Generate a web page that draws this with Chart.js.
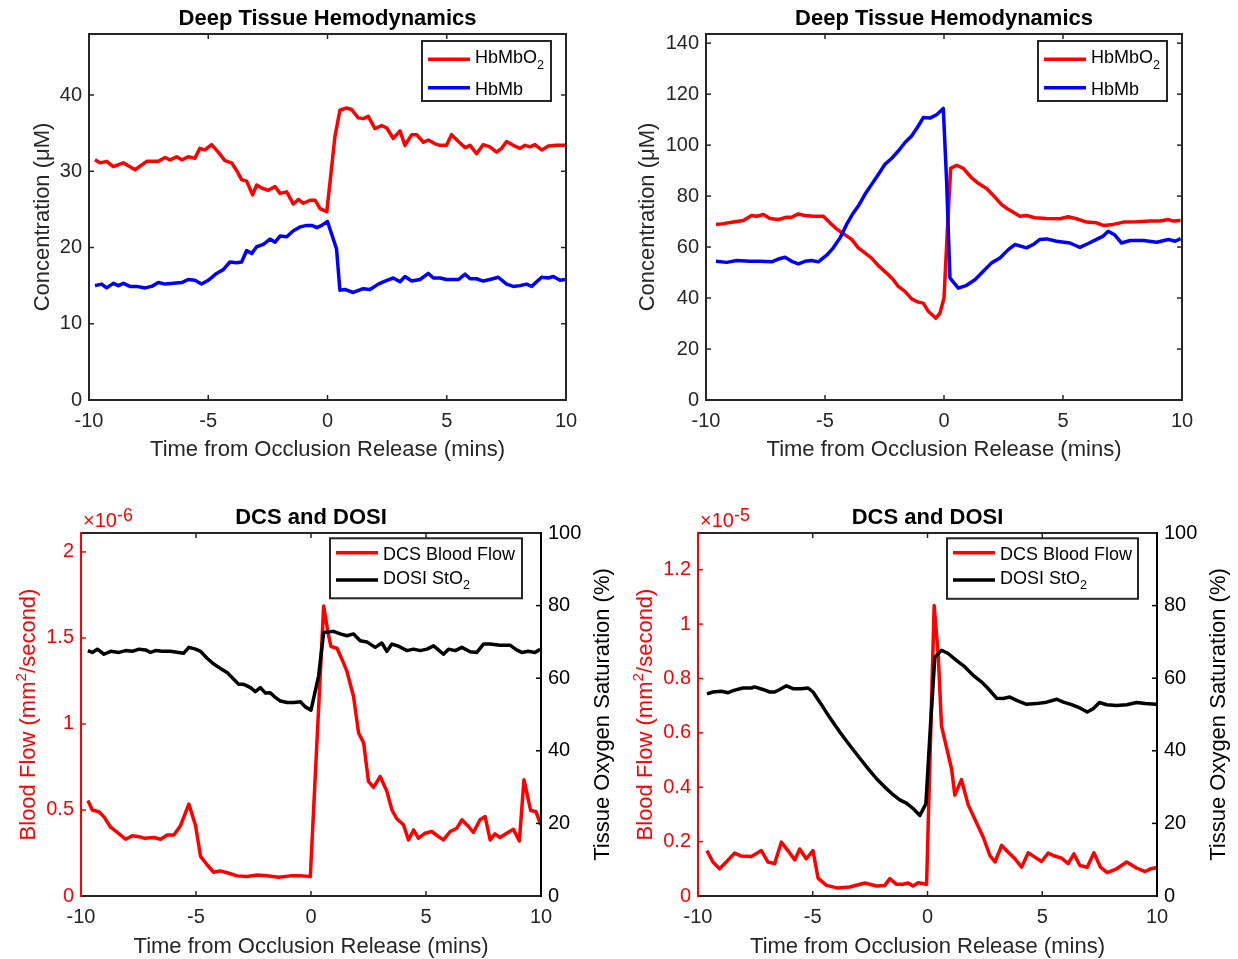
<!DOCTYPE html>
<html>
<head>
<meta charset="utf-8">
<script src="https://cdn.jsdelivr.net/npm/chart.js@4.4.1/dist/chart.umd.min.js"></script>
<style>
  html, body { margin: 0; padding: 0; background: #ffffff; }
  #page { position: relative; width: 1238px; height: 959px; overflow: hidden; background: #ffffff; }
  canvas { position: absolute; display: block; }
</style>
</head>
<body>
<div id="page">
  <canvas id="hemoA" width="619" height="480" style="left:0px;top:0px"></canvas>
  <canvas id="hemoB" width="619" height="480" style="left:619px;top:0px"></canvas>
  <canvas id="flowC" width="619" height="479" style="left:0px;top:480px"></canvas>
  <canvas id="flowD" width="619" height="479" style="left:619px;top:480px"></canvas>
</div>
<script>
// ---------- tick labels ----------
const timeTicks = [-10, -5, 0, 5, 10];
const concTicksA = [0, 10, 20, 30, 40];
const concTicksB = [0, 20, 40, 60, 80, 100, 120, 140];
const flowTicksC = [0, 0.5, 1, 1.5, 2];          // x 1e-6 mm^2/s
const flowTicksD = [0, 0.2, 0.4, 0.6, 0.8, 1, 1.2]; // x 1e-5 mm^2/s
const satTicks = [0, 20, 40, 60, 80, 100];

// ---------- panel A: deep tissue hemodynamics (uM) ----------
const timeOxyA = [-9.75,-9.54,-9.26,-8.98,-8.56,-8.07,-7.58,-7.09,-6.81,-6.60,-6.32,-6.11,-5.84,-5.56,-5.35,-5.14,-4.86,-4.58,-4.30,-4.02,-3.81,-3.60,-3.39,-3.14,-2.97,-2.76,-2.48,-2.20,-1.99,-1.71,-1.43,-1.22,-1.01,-0.73,-0.52,-0.31,-0.03,0.10,0.31,0.52,0.80,1.01,1.29,1.50,1.71,1.99,2.27,2.48,2.76,3.04,3.25,3.53,3.74,4.02,4.23,4.51,4.72,4.99,5.20,5.49,5.77,5.98,6.25,6.53,6.81,7.09,7.30,7.51,7.79,8.07,8.28,8.49,8.70,8.98,9.26,9.61,9.96];
const oxyA = [31.5,31.1,31.3,30.6,31.1,30.2,31.3,31.3,31.8,31.5,31.9,31.5,31.9,31.7,33.0,32.8,33.5,32.5,31.4,31.1,30.1,28.9,28.7,26.9,28.2,27.8,27.5,28.0,27.1,27.3,25.7,26.3,25.8,26.2,26.2,25.1,24.7,28.4,34.5,38.0,38.3,38.1,37.0,36.9,37.2,35.6,36.0,35.7,34.3,35.3,33.4,34.8,34.8,33.8,34.1,33.6,33.4,33.4,34.8,33.9,33.1,33.4,32.3,33.5,33.2,32.5,33.0,33.9,33.4,33.0,33.4,33.2,33.5,32.8,33.3,33.4,33.4];
const timeDeoxyA = [-9.75,-9.47,-9.26,-8.98,-8.77,-8.56,-8.28,-8.00,-7.65,-7.37,-7.09,-6.81,-6.46,-6.11,-5.84,-5.56,-5.28,-5.00,-4.65,-4.37,-4.09,-3.81,-3.60,-3.39,-3.18,-2.97,-2.69,-2.41,-2.20,-1.99,-1.71,-1.43,-1.15,-0.87,-0.66,-0.45,-0.24,0.00,0.38,0.52,0.73,1.08,1.50,1.78,2.13,2.41,2.76,3.04,3.25,3.53,3.88,4.23,4.44,4.72,4.99,5.49,5.77,5.98,6.25,6.53,6.81,7.16,7.51,7.79,8.07,8.35,8.56,8.98,9.26,9.47,9.75,9.96];
const deoxyA = [15.0,15.2,14.7,15.3,15.0,15.3,14.9,14.9,14.7,14.9,15.4,15.2,15.3,15.4,15.8,15.7,15.2,15.7,16.6,17.1,18.1,18.0,18.1,19.6,19.2,20.1,20.4,21.1,20.7,21.5,21.4,22.2,22.7,22.9,22.9,22.6,22.9,23.4,19.8,14.4,14.5,14.1,14.6,14.5,15.2,15.6,16.0,15.5,16.2,15.6,15.8,16.6,16.0,16.0,15.8,15.8,16.5,15.9,15.9,15.6,15.8,16.1,15.2,14.9,15.0,15.2,14.9,16.1,16.0,16.2,15.7,15.8];

// ---------- panel B: deep tissue hemodynamics (uM) ----------
const timeOxyB = [-9.58,-9.27,-8.85,-8.43,-8.08,-7.87,-7.59,-7.31,-6.96,-6.61,-6.40,-6.12,-5.84,-5.49,-5.07,-4.79,-4.51,-4.23,-3.88,-3.60,-3.32,-3.04,-2.76,-2.41,-2.13,-1.92,-1.64,-1.36,-1.08,-0.87,-0.66,-0.34,-0.17,0.00,0.14,0.28,0.53,0.81,1.16,1.44,1.79,2.14,2.42,2.70,3.19,3.47,3.82,4.31,4.87,5.22,5.57,5.99,6.41,6.69,7.11,7.54,8.10,8.66,9.08,9.43,9.64,9.94];
const oxyB = [68.9,69.2,69.8,70.4,72.4,72.1,72.8,71.2,70.8,71.7,71.7,73.0,72.4,72.1,72.1,69.5,67.1,65.3,63.0,59.7,57.7,55.7,52.7,49.8,47.2,44.6,42.6,39.7,38.4,38.0,34.8,32.1,34.1,40.0,66.2,90.9,92.1,90.9,87.2,85.0,83.0,79.6,76.7,74.8,72.1,72.4,71.5,71.2,71.1,71.9,71.1,69.8,69.5,68.5,68.9,69.8,69.9,70.2,70.2,70.8,70.2,70.4];
const timeDeoxyB = [-9.58,-9.13,-8.71,-8.15,-7.73,-7.24,-6.96,-6.68,-6.40,-6.12,-5.84,-5.56,-5.28,-4.93,-4.65,-4.37,-4.09,-3.81,-3.60,-3.32,-3.04,-2.76,-2.48,-2.20,-1.92,-1.64,-1.36,-1.08,-0.87,-0.59,-0.31,-0.03,0.11,0.25,0.60,0.95,1.30,1.65,2.00,2.35,2.70,2.98,3.47,3.75,4.03,4.31,4.73,5.29,5.71,6.06,6.41,6.69,6.90,7.18,7.46,7.82,8.38,8.94,9.43,9.71,9.94];
const deoxyB = [54.4,54.0,54.7,54.4,54.4,54.2,55.3,56.0,54.4,53.4,54.4,54.7,54.2,56.8,59.7,63.6,68.9,73.4,76.1,80.7,84.6,88.5,92.5,94.8,97.7,101.0,103.6,107.5,110.8,110.6,111.9,114.4,85.9,47.9,43.9,45.0,47.2,50.5,53.8,55.7,59.0,61.0,59.7,61.0,63.0,63.2,62.3,61.6,59.9,61.4,63.0,64.3,66.2,64.7,61.6,62.6,62.6,61.9,63.0,62.3,63.3];

// ---------- panel C: DCS blood flow (x1e-6) and DOSI StO2 (%) ----------
const timeFlowC = [-9.70,-9.51,-9.22,-9.00,-8.71,-8.42,-8.06,-7.77,-7.48,-7.26,-6.83,-6.54,-6.25,-5.96,-5.67,-5.31,-5.02,-4.80,-4.51,-4.23,-3.94,-3.57,-3.21,-2.78,-2.34,-1.91,-1.40,-0.90,-0.39,-0.03,0.55,0.77,0.87,1.13,1.35,1.56,1.85,2.07,2.29,2.50,2.72,3.01,3.30,3.52,3.73,4.02,4.24,4.46,4.67,4.96,5.25,5.54,5.76,6.05,6.34,6.56,6.85,7.06,7.35,7.57,7.79,8.00,8.22,8.51,8.80,9.06,9.26,9.55,9.78,9.99];
const flowC = [0.555,0.50,0.49,0.46,0.40,0.37,0.33,0.35,0.345,0.336,0.34,0.33,0.355,0.355,0.41,0.534,0.41,0.23,0.18,0.138,0.146,0.132,0.117,0.113,0.122,0.118,0.109,0.117,0.117,0.113,1.685,1.51,1.45,1.44,1.375,1.307,1.16,0.948,0.889,0.666,0.631,0.695,0.608,0.50,0.449,0.414,0.326,0.384,0.336,0.365,0.375,0.346,0.326,0.375,0.394,0.443,0.404,0.369,0.443,0.462,0.326,0.361,0.34,0.365,0.388,0.32,0.676,0.497,0.491,0.414];
const timeStoC = [-9.70,-9.51,-9.29,-9.00,-8.71,-8.35,-8.06,-7.77,-7.48,-7.19,-6.98,-6.76,-6.47,-6.11,-5.75,-5.53,-5.31,-5.02,-4.80,-4.52,-4.23,-3.94,-3.65,-3.36,-3.14,-2.92,-2.63,-2.42,-2.20,-1.98,-1.77,-1.55,-1.33,-1.04,-0.75,-0.46,-0.25,0.00,0.33,0.55,0.98,1.27,1.56,1.85,2.14,2.43,2.79,3.08,3.30,3.52,3.81,4.17,4.46,4.75,5.04,5.33,5.54,5.76,5.98,6.27,6.56,6.92,7.21,7.50,7.79,8.22,8.65,8.94,9.16,9.45,9.74,9.96];
const stoC = [67.6,67.1,68.0,66.6,67.4,67.1,67.6,67.4,68.0,67.8,67.1,67.6,67.4,67.4,67.1,66.9,68.5,68.0,67.4,65.5,63.9,62.7,61.6,59.7,58.3,58.3,57.4,56.3,57.4,55.9,56.0,54.7,53.7,53.3,53.3,53.5,52.1,51.2,60.6,72.6,72.9,72.2,71.7,72.2,70.3,70.0,68.5,69.7,67.4,69.4,68.8,67.6,68.0,67.6,68.0,68.9,67.8,66.6,68.0,67.6,68.5,67.3,67.1,69.4,69.4,69.1,69.1,67.8,67.1,67.4,67.1,68.0];

// ---------- panel D: DCS blood flow (x1e-5) and DOSI StO2 (%) ----------
const timeFlowD = [-9.61,-9.35,-9.06,-8.77,-8.40,-8.11,-7.67,-7.24,-6.95,-6.66,-6.37,-6.08,-5.78,-5.57,-5.28,-4.99,-4.77,-4.40,-3.90,-3.39,-2.73,-2.22,-1.86,-1.64,-1.35,-1.06,-0.84,-0.63,-0.41,-0.04,0.29,0.47,0.61,0.83,1.05,1.19,1.48,1.77,2.06,2.43,2.72,2.94,3.23,3.52,3.81,4.10,4.39,4.68,4.97,5.26,5.55,5.84,6.13,6.38,6.64,6.96,7.25,7.54,7.83,8.24,8.68,9.11,9.48,9.72,9.96];
const flowD = [0.167,0.125,0.100,0.125,0.158,0.147,0.145,0.167,0.125,0.119,0.198,0.167,0.133,0.173,0.137,0.167,0.066,0.039,0.029,0.033,0.048,0.037,0.039,0.064,0.043,0.043,0.048,0.037,0.049,0.043,1.068,0.882,0.626,0.546,0.467,0.371,0.428,0.336,0.283,0.216,0.149,0.125,0.186,0.161,0.137,0.106,0.159,0.143,0.127,0.158,0.147,0.139,0.119,0.155,0.112,0.106,0.159,0.106,0.086,0.100,0.125,0.103,0.090,0.100,0.104];
const timeStoD = [-9.61,-9.35,-8.98,-8.69,-8.40,-8.04,-7.67,-7.53,-7.17,-6.88,-6.66,-6.44,-6.15,-5.86,-5.50,-5.20,-4.99,-4.69,-4.40,-4.11,-3.82,-3.53,-3.24,-2.88,-2.59,-2.22,-1.86,-1.50,-1.21,-0.92,-0.63,-0.33,-0.07,0.13,0.32,0.61,0.90,1.26,1.63,1.99,2.35,2.65,3.01,3.30,3.59,3.88,4.32,4.75,5.19,5.63,5.92,6.28,6.64,6.96,7.22,7.49,7.81,8.24,8.68,9.11,9.48,9.96];
const stoD = [55.7,56.2,56.4,56.0,56.7,57.3,57.3,57.6,56.9,56.2,56.2,56.9,57.9,57.1,57.1,57.3,56.2,53.4,50.5,47.8,45.2,42.7,40.3,37.4,35.1,32.3,30.0,27.9,26.5,25.6,24.1,22.2,25.4,47.0,65.8,67.7,66.8,64.9,63.1,60.8,59.0,57.1,54.5,54.4,54.8,53.9,52.8,53.0,53.4,54.2,53.4,52.7,51.8,50.7,51.6,53.3,52.7,52.5,52.7,53.3,53.0,52.8];

// ---------- styling ----------
const FONT = '"Liberation Sans", Arial, Helvetica, sans-serif';
const INK = '#262626';
const RED = '#ff0000';
const BLUE = '#0000ff';
const BLACK = '#000000';
const TICK_LEN = 5;
const LINE_W = 3.5;
Chart.defaults.font.family = FONT;

// text made of runs, some raised (sup) or lowered (sub)
function drawRich(ctx, parts, x, y, size, color, align, weight) {
  const runs = parts.map(p => {
    const o = typeof p === 'string' ? { t: p } : p;
    const s = (o.sup || o.sub) ? size * (o.scale || 0.7) : size;
    const dy = o.sup ? -(o.raise || size * 0.4) : (o.sub ? size * 0.3 : 0);
    return { t: o.t, font: (weight ? weight + ' ' : '') + s + 'px ' + FONT, dy };
  });
  let total = 0;
  runs.forEach(r => { ctx.font = r.font; r.w = ctx.measureText(r.t).width; total += r.w; });
  let cx = align === 'center' ? x - total / 2 : (align === 'right' ? x - total : x);
  ctx.fillStyle = color;
  ctx.textAlign = 'left';
  ctx.textBaseline = 'alphabetic';
  runs.forEach(r => { ctx.font = r.font; ctx.fillText(r.t, cx, y + r.dy); cx += r.w; });
}

function strokeLine(ctx, x1, y1, x2, y2) {
  ctx.beginPath(); ctx.moveTo(x1, y1); ctx.lineTo(x2, y2); ctx.stroke();
}

// axes frame, inward ticks, titles and legend for one panel
function makeFramePlugin(spec) {
  return {
    id: 'frame',
    afterDatasetsDraw(chart) {
      const ctx = chart.ctx;
      const a = chart.chartArea;
      const xs = chart.scales.x;
      ctx.save();
      ctx.lineCap = 'butt';
      ctx.lineWidth = 1.5;
      ctx.strokeStyle = INK;
      xs.ticks.forEach(t => {
        const p = xs.getPixelForValue(t.value);
        strokeLine(ctx, p, a.bottom, p, a.bottom - TICK_LEN);
        strokeLine(ctx, p, a.top, p, a.top + TICK_LEN);
      });
      spec.axes.forEach(ax => {
        const s = chart.scales[ax.id];
        ctx.strokeStyle = ax.color;
        s.ticks.forEach(t => {
          const p = s.getPixelForValue(t.value);
          if (ax.left) strokeLine(ctx, a.left, p, a.left + TICK_LEN, p);
          if (ax.right) strokeLine(ctx, a.right, p, a.right - TICK_LEN, p);
        });
      });
      // frame edges
      ctx.lineWidth = 2;
      ctx.strokeStyle = INK;
      strokeLine(ctx, a.left - 1, a.top, a.right + 1, a.top);
      strokeLine(ctx, a.left - 1, a.bottom, a.right + 1, a.bottom);
      ctx.strokeStyle = spec.leftEdge;
      strokeLine(ctx, a.left, a.top - 1, a.left, a.bottom + 1);
      ctx.strokeStyle = spec.rightEdge;
      strokeLine(ctx, a.right, a.top - 1, a.right, a.bottom + 1);

      // title
      drawRich(ctx, [spec.title], (a.left + a.right) / 2, spec.titleY, 22, BLACK, 'center', 'bold');
      // x axis label
      drawRich(ctx, ['Time from Occlusion Release (mins)'], (a.left + a.right) / 2, spec.xLabelY, 22, INK, 'center');
      // y axis labels (rotated)
      spec.yLabels.forEach(yl => {
        ctx.save();
        ctx.translate(yl.x, (a.top + a.bottom) / 2);
        ctx.rotate(-Math.PI / 2);
        drawRich(ctx, yl.parts, 0, 0, 22, yl.color, 'center');
        ctx.restore();
      });
      // exponent above the left axis
      if (spec.exponent) {
        drawRich(ctx, ['\u00d710', { t: spec.exponent, sup: true, scale: 0.9, raise: 6 }], spec.expX, spec.expY, 20, RED, 'left');
      }
      // legend
      const lg = spec.legend;
      ctx.fillStyle = '#ffffff';
      ctx.fillRect(lg.x, lg.y, lg.w, lg.h);
      ctx.lineWidth = 2;
      ctx.strokeStyle = INK;
      ctx.strokeRect(lg.x, lg.y, lg.w, lg.h);
      lg.rows.forEach(r => {
        ctx.strokeStyle = r.color;
        ctx.lineWidth = LINE_W;
        strokeLine(ctx, lg.x + 6, lg.y + r.dy, lg.x + 48, lg.y + r.dy);
        const hasSub = r.parts.some(p => typeof p !== 'string');
        drawRich(ctx, r.parts, lg.x + 53, lg.y + r.dy + (hasSub ? 4 : 7), 18, BLACK, 'left');
      });
      ctx.restore();
    }
  };
}

function series(label, times, values, color, axisId, order) {
  return {
    label,
    data: times.map((t, i) => ({ x: t, y: values[i] })),
    borderColor: color,
    backgroundColor: color,
    borderWidth: LINE_W,
    borderJoinStyle: 'round',
    pointRadius: 0,
    tension: 0,
    fill: false,
    yAxisID: axisId,
    order
  };
}

function timeScale(spec) {
  return {
    type: 'linear', position: 'bottom', min: -10, max: 10,
    afterBuildTicks: s => { s.ticks = timeTicks.map(v => ({ value: v })); },
    afterFit: s => { s.height = spec.H - spec.box.bottom; },
    grid: { display: false, drawTicks: false },
    border: { display: false },
    ticks: { color: INK, font: { size: 20 }, padding: 9, maxRotation: 0, autoSkip: false, callback: v => String(v) }
  };
}

function valueScale(spec, pos, min, max, tickVals, color) {
  return {
    type: 'linear', position: pos, min, max,
    afterBuildTicks: s => { s.ticks = tickVals.map(v => ({ value: v })); },
    afterFit: s => { s.width = pos === 'left' ? spec.box.left : spec.W - spec.box.right; },
    grid: { display: false, drawTicks: false },
    border: { display: false },
    ticks: { color, font: { size: 20 }, padding: 7, autoSkip: false, callback: v => String(Math.round(v * 100) / 100) }
  };
}

function build(canvasId, spec, datasets, scales) {
  const hasRight = Object.values(scales).some(s => s.position === 'right');
  new Chart(document.getElementById(canvasId), {
    type: 'line',
    data: { datasets },
    options: {
      responsive: false,
      animation: false,
      events: [],
      layout: { padding: { top: spec.box.top, left: 0, bottom: 0, right: hasRight ? 0 : spec.W - spec.box.right } },
      plugins: { legend: { display: false }, title: { display: false }, tooltip: { enabled: false } },
      scales
    },
    plugins: [makeFramePlugin(spec)]
  });
}

const concLabel = ['Concentration (\u03bcM)'];
const flowLabel = ['Blood Flow (mm', { t: '2', sup: true }, '/second)'];
const satLabel = ['Tissue Oxygen Saturation (%)'];
const hbLegendRows = [
  { color: RED, dy: 18.3, parts: ['HbMbO', { t: '2', sub: true }] },
  { color: BLUE, dy: 46.7, parts: ['HbMb'] }
];
const dosiLegendRows = [
  { color: RED, dy: 14.4, parts: ['DCS Blood Flow'] },
  { color: BLACK, dy: 41.7, parts: ['DOSI StO', { t: '2', sub: true }] }
];

// panel A
const specA = {
  W: 619, H: 480, box: { left: 89, top: 34, right: 566, bottom: 400 },
  title: 'Deep Tissue Hemodynamics', titleY: 25, xLabelY: 456,
  yLabels: [{ x: 48.5, parts: concLabel, color: INK }],
  axes: [{ id: 'y', color: INK, left: true, right: true }],
  leftEdge: INK, rightEdge: INK,
  legend: { x: 422, y: 41, w: 129, h: 60, rows: hbLegendRows }
};
build('hemoA', specA, [
  series('HbMbO2', timeOxyA, oxyA, RED, 'y', 2),
  series('HbMb', timeDeoxyA, deoxyA, BLUE, 'y', 1)
], { x: timeScale(specA), y: valueScale(specA, 'left', 0, 48, concTicksA, INK) });

// panel B
const specB = {
  W: 619, H: 480, box: { left: 87, top: 34, right: 563, bottom: 400 },
  title: 'Deep Tissue Hemodynamics', titleY: 25, xLabelY: 456,
  yLabels: [{ x: 34.5, parts: concLabel, color: INK }],
  axes: [{ id: 'y', color: INK, left: true, right: true }],
  leftEdge: INK, rightEdge: INK,
  legend: { x: 419, y: 41, w: 129, h: 60, rows: hbLegendRows }
};
build('hemoB', specB, [
  series('HbMbO2', timeOxyB, oxyB, RED, 'y', 2),
  series('HbMb', timeDeoxyB, deoxyB, BLUE, 'y', 1)
], { x: timeScale(specB), y: valueScale(specB, 'left', 0, 143.6, concTicksB, INK) });

// panel C
const specC = {
  W: 619, H: 479, box: { left: 81, top: 53, right: 541, bottom: 416 },
  title: 'DCS and DOSI', titleY: 43.5, xLabelY: 473,
  yLabels: [{ x: 34.5, parts: flowLabel, color: RED }, { x: 609, parts: satLabel, color: BLACK }],
  axes: [{ id: 'yFlow', color: RED, left: true }, { id: 'ySat', color: BLACK, right: true }],
  leftEdge: RED, rightEdge: BLACK,
  exponent: '-6', expX: 83, expY: 46.7,
  legend: { x: 330, y: 58.3, w: 192, h: 60, rows: dosiLegendRows }
};
build('flowC', specC, [
  series('DCS Blood Flow', timeFlowC, flowC, RED, 'yFlow', 2),
  series('DOSI StO2', timeStoC, stoC, BLACK, 'ySat', 1)
], {
  x: timeScale(specC),
  yFlow: valueScale(specC, 'left', 0, 2.11, flowTicksC, RED),
  ySat: valueScale(specC, 'right', 0, 100, satTicks, BLACK)
});

// panel D
const specD = {
  W: 619, H: 479, box: { left: 79, top: 53, right: 538, bottom: 416 },
  title: 'DCS and DOSI', titleY: 43.5, xLabelY: 473,
  yLabels: [{ x: 32.5, parts: flowLabel, color: RED }, { x: 606, parts: satLabel, color: BLACK }],
  axes: [{ id: 'yFlow', color: RED, left: true }, { id: 'ySat', color: BLACK, right: true }],
  leftEdge: RED, rightEdge: BLACK,
  exponent: '-5', expX: 81, expY: 46.7,
  legend: { x: 328, y: 58.3, w: 191, h: 60.5, rows: dosiLegendRows }
};
build('flowD', specD, [
  series('DCS Blood Flow', timeFlowD, flowD, RED, 'yFlow', 2),
  series('DOSI StO2', timeStoD, stoD, BLACK, 'ySat', 1)
], {
  x: timeScale(specD),
  yFlow: valueScale(specD, 'left', 0, 1.335, flowTicksD, RED),
  ySat: valueScale(specD, 'right', 0, 100, satTicks, BLACK)
});
</script>
</body>
</html>
